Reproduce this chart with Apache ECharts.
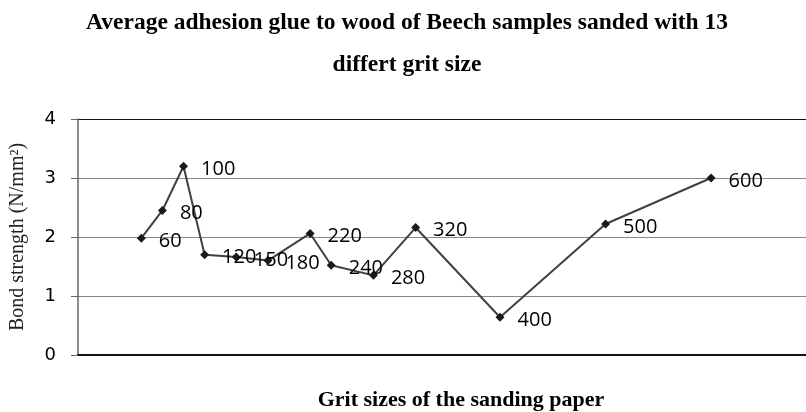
<!DOCTYPE html>
<html>
<head>
<meta charset="utf-8">
<script src="https://cdn.jsdelivr.net/npm/echarts@6/dist/echarts.min.js"></script>
<style>html,body{margin:0;padding:0;background:#fff}#c{width:806px;height:412px}</style>
</head>
<body>
<div id="c"></div>
<script>
const gritSizes = [60, 80, 100, 120, 150, 180, 220, 240, 280, 320, 400, 500, 600];
const bondStrength = [1.98, 2.45, 3.20, 1.70, 1.66, 1.60, 2.06, 1.52, 1.35, 2.16, 0.64, 2.22, 3.00];
const yTicks = [0, 1, 2, 3, 4];
const titleText = 'Average adhesion glue to wood of Beech samples sanded with 13\ndiffert grit size';
const xName = 'Grit sizes of the sanding paper';
const yName = 'Bond strength (N/mm\u00B2)';

const chart = echarts.init(document.getElementById('c'), null, {renderer: 'canvas'});
const serif = '"Liberation Serif", "DejaVu Serif", serif';
const sans = '"DejaVu Sans", Verdana, sans-serif';
const labelFont = '"Open Sans", "DejaVu Sans", sans-serif';
chart.setOption({
  animation: false,
  backgroundColor: '#fff',
  title: [{
    text: titleText,
    left: 407, top: 2, padding: 0, textAlign: 'center',
    textStyle: {fontFamily: serif, fontWeight: 'bold', fontSize: 23.5, lineHeight: 42, color: '#000'}
  }, {
    text: xName,
    left: 461, top: 389, padding: 0, textAlign: 'center',
    textStyle: {fontFamily: serif, fontWeight: 'bold', fontSize: 22, lineHeight: 22, color: '#000'}
  }],
  grid: {left: 78, right: 0, top: 119, bottom: 57, containLabel: false},
  xAxis: {
    type: 'value', min: 0, max: 690,
    axisLine: {show: true, lineStyle: {color: '#111', width: 2}},
    axisTick: {show: false}, axisLabel: {show: false}, splitLine: {show: false}
  },
  yAxis: {
    type: 'value', min: yTicks[0], max: yTicks[yTicks.length - 1], interval: 1,
    name: yName, nameLocation: 'middle', nameGap: 50, nameRotate: 90,
    nameTextStyle: {fontFamily: serif, fontSize: 20, color: '#222'},
    axisLine: {show: true, lineStyle: {color: '#666', width: 1.5}},
    axisTick: {show: true, length: 7, lineStyle: {color: '#666'}},
    axisLabel: {margin: 22, fontFamily: sans, fontSize: 18, color: '#000',
      formatter: v => yTicks.includes(v) ? String(v) : ''},
    splitLine: {show: true, lineStyle: {color: ['#111', '#888', '#888', '#888', '#111'], width: 1}}
  },
  series: [{
    type: 'line',
    data: gritSizes.map((g, i) => [g, bondStrength[i]]),
    symbol: 'diamond', symbolSize: 9,
    itemStyle: {color: '#1a1a1a'},
    lineStyle: {color: '#404040', width: 2},
    label: {
      show: true, position: 'right', distance: 13, offset: [0, 3],
      fontFamily: labelFont, fontSize: 20, color: '#000',
      formatter: p => String(gritSizes[p.dataIndex])
    }
  }]
});
</script>
</body>
</html>
